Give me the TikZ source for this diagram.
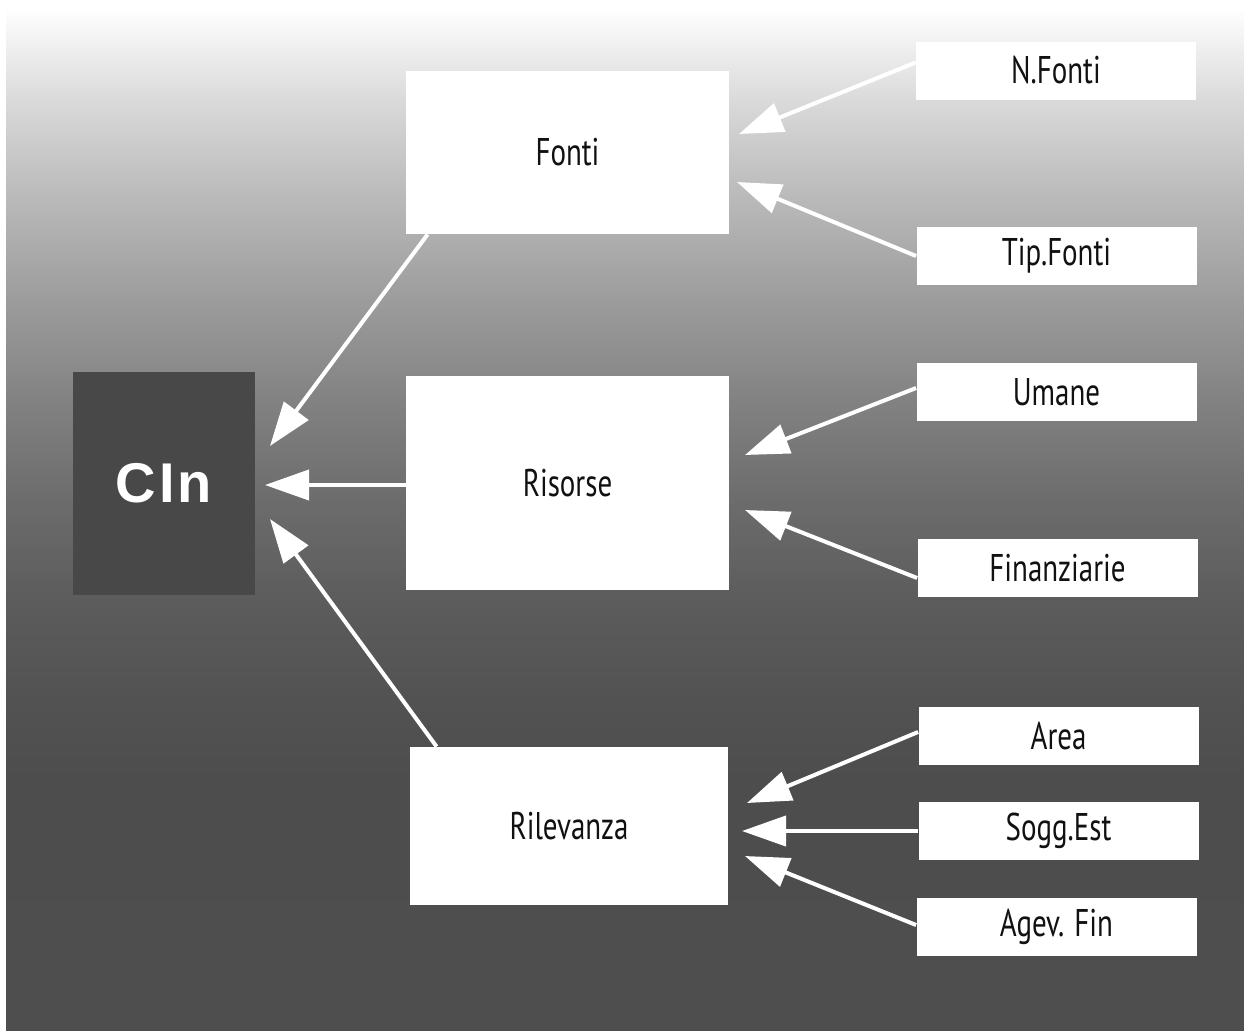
\documentclass[tikz,border=0pt]{standalone}
\usepackage{fontspec}
\setmainfont{PT Sans}[FakeStretch=0.75]
\newfontfamily\cinfont{Liberation Sans}
\usetikzlibrary{arrows.meta}

\definecolor{cinfill}{HTML}{484848}
\definecolor{labelink}{HTML}{111111}
% background fade, top to bottom
\definecolor{bgA}{gray}{1.000}
\definecolor{bgB}{gray}{0.855}
\definecolor{bgC}{gray}{0.725}
\definecolor{bgD}{gray}{0.612}
\definecolor{bgE}{gray}{0.510}
\definecolor{bgF}{gray}{0.424}
\definecolor{bgG}{gray}{0.361}
\definecolor{bgH}{gray}{0.322}
\definecolor{bgI}{gray}{0.302}
\definecolor{bgJ}{gray}{0.306}

\pgfdeclareverticalshading{bgfade}{100bp}{%
  color(0bp)=(bgJ); color(25bp)=(bgJ); color(37.23bp)=(bgI);
  color(41.14bp)=(bgH); color(46.03bp)=(bgG); color(50.93bp)=(bgF);
  color(55.82bp)=(bgE); color(60.71bp)=(bgD); color(65.61bp)=(bgC);
  color(70.50bp)=(bgB); color(75bp)=(bgA); color(100bp)=(bgA)}

\newcommand\lblsize{\fontsize{19.3pt}{23pt}\selectfont}
\newcommand\cinsize{\fontsize{28pt}{32pt}\selectfont}

\begin{document}
\begin{tikzpicture}[x=0.5pt,y=-0.5pt,
  panel/.style={fill=white, inner sep=0pt, text=labelink, font=\lblsize},
  leaf/.style={panel, minimum width=140pt, minimum height=29pt},
  core/.style={fill=cinfill, inner sep=0pt, text=white,
    font=\cinfont\bfseries\cinsize, minimum width=91pt, minimum height=111.5pt},
  link/.style={draw=white, line width=2pt, -{Triangle[length=22pt,width=15pt]}}]

\useasboundingbox (0,0) rectangle (1244,1030);
\fill[white] (0,0) rectangle (1244,1030);
\shade[shading=bgfade] (6,8) rectangle (1244,1030);

% central node
\node[core] (cin) at (164,483.5) {C\kern1.5pt I\kern1.5pt n};

% second level
\node[panel, minimum width=161.5pt, minimum height=81.5pt] (fo) at (567.5,152.5) {Fonti};
\node[panel, minimum width=161.5pt, minimum height=107pt] (ri) at (567.5,483) {Risorse};
\node[panel, minimum width=159pt, minimum height=79pt] (rl) at (569,826) {Rilevanza};

% leaves
\node[leaf] (nf) at (1056,70.5) {N.Fonti};
\node[leaf] (tf) at (1056.5,256) {Tip.Fonti};
\node[leaf] (um) at (1056.5,392) {Umane};
\node[leaf] (fi) at (1057.5,568) {Finanziarie};
\node[leaf] (ar) at (1058.5,736) {Area};
\node[leaf] (se) at (1058.5,831) {Sogg.Est};
\node[leaf] (ag) at (1056.5,927) {Agev. Fin};

% arrow tips
\coordinate (tcin1) at (270,446);
\coordinate (tcin2) at (265,485);
\coordinate (tcin3) at (270,519);
\coordinate (tfo1) at (739,134);
\coordinate (tfo2) at (737,182);
\coordinate (tri1) at (745,455);
\coordinate (tri2) at (745,510);
\coordinate (trl1) at (747,803);
\coordinate (trl2) at (742,831);
\coordinate (trl3) at (745,856);

% connectors
\draw[link] ([xshift=11pt]fo.south west) -- (tcin1);
\draw[link] ([yshift=-1pt]ri.west) -- (tcin2);
\draw[link] ([xshift=13.5pt]rl.north west) -- (tcin3);

\draw[link] ([yshift=4pt]nf.west) -- (tfo1);
\draw[link] (tf.west) -- (tfo2);
\draw[link] ([yshift=2pt]um.west) -- (tri1);
\draw[link] ([yshift=-5pt]fi.west) -- (tri2);
\draw[link] ([yshift=2pt]ar.west) -- (trl1);
\draw[link] (se.west) -- (trl2);
\draw[link] ([yshift=1pt]ag.west) -- (trl3);
\end{tikzpicture}
\end{document}
